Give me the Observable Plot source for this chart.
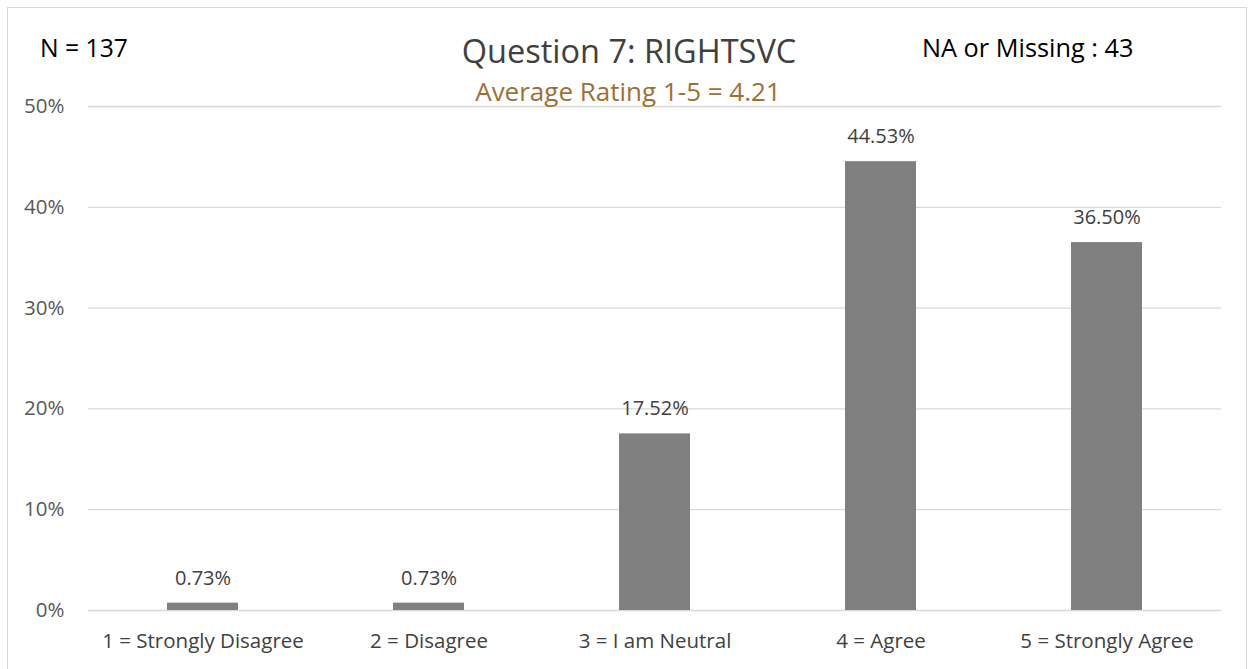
<!DOCTYPE html>
<html>
<head>
<meta charset="utf-8">
<script src="https://cdn.jsdelivr.net/npm/d3@7"></script>
<script src="https://cdn.jsdelivr.net/npm/@observablehq/plot@0.6"></script>
<style>
  html, body { margin: 0; padding: 0; background: #fff; }
  #wrap { position: relative; width: 1250px; height: 669px; overflow: hidden; font-family: "Open Sans", sans-serif; }
  #frame { position: absolute; left: 7px; top: 7px; width: 1240px; height: 700px; border: 1px solid #d9d9d9; box-sizing: border-box; }
  #chart, #header { position: absolute; left: 0; top: 0; }
</style>
</head>
<body>
<div id="wrap">
  <div id="frame"></div>
  <div id="chart"></div>
  <svg id="header" width="1250" height="120" font-family="'Open Sans', sans-serif">
    <text x="629" y="63" text-anchor="middle" font-size="32.5" fill="#404040">Question 7: RIGHTSVC</text>
    <text x="628" y="101" text-anchor="middle" font-size="26" fill="#9E6F34">Average Rating 1-5 = 4.21</text>
    <text x="40" y="57" font-size="24.7" fill="#000">N = 137</text>
    <text x="922" y="57" font-size="25.3" fill="#000">NA or Missing : 43</text>
  </svg>
</div>
<script>
const categories = ["1 = Strongly Disagree", "2 = Disagree", "3 = I am Neutral", "4 = Agree", "5 = Strongly Agree"];
const values = [0.0073, 0.0073, 0.1752, 0.4453, 0.3650];
const valueLabels = ["0.73%", "0.73%", "17.52%", "44.53%", "36.50%"];
const yTicks = [0, 0.1, 0.2, 0.3, 0.4, 0.5];

const data = categories.map((c, i) => ({category: c, value: values[i], label: valueLabels[i]}));
const pct = d => Math.round(d * 100) + "%";

const chart = Plot.plot({
  width: 1250,
  height: 669,
  marginLeft: 88,
  marginRight: 29,
  marginTop: 106,
  marginBottom: 59,
  style: {fontFamily: "'Open Sans', sans-serif", fontSize: "18px", background: "transparent"},
  x: {domain: categories, paddingInner: 0.686, paddingOuter: 0.343, label: null},
  y: {domain: [0, 0.5], ticks: yTicks, tickFormat: pct, label: null},
  marks: [
    Plot.gridY(yTicks, {stroke: "#d9d9d9", strokeOpacity: 1, strokeWidth: 1.3}),
    Plot.barY(data, {x: "category", y: "value", fill: "#808080"}),
    Plot.text(data, {x: "category", y: "value", text: "label", dy: -25, fill: "#404040", fontSize: 20}),
    Plot.axisX({tickSize: 0, tickPadding: 22.5, fontSize: 20.5, color: "#404040", label: null}),
    Plot.axisY({ticks: yTicks, tickFormat: pct, tickSize: 0, tickPadding: 24, fontSize: 20.5, color: "#595959", label: null})
  ]
});
document.getElementById("chart").appendChild(chart);
</script>
</body>
</html>
